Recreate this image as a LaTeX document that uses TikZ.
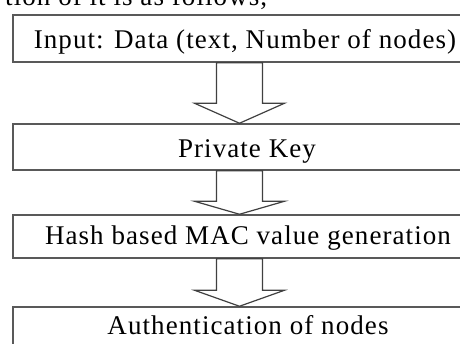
\documentclass[tikz,border=0pt]{standalone}
\usepackage{fontspec}
\setmainfont{Liberation Serif}[LetterSpace=4]
\usetikzlibrary{calc}

\tikzset{
  stagebox/.style={draw=black!65, line width=1.5pt, rectangle, inner sep=0pt,
    minimum width=470pt},
  stagetext/.style={anchor=base, inner sep=0pt, text=black,
    font=\fontsize{27pt}{30pt}\selectfont},
  blockarrowline/.style={draw=black!75, line width=1.2pt, fill=white,
    line join=miter}
}

% hollow block arrow from the bottom of #1 to the top of #2, head length #3
\newcommand\blockarrow[3]{%
  \draw[blockarrowline]
    ($(axis |- #1.south)+(-23,0)$) --
    ($(axis |- #2.north)+(-23,-#3)$) --
    ($(axis |- #2.north)+(-45,-#3)$) --
    (axis |- #2.north) --
    ($(axis |- #2.north)+(45,-#3)$) --
    ($(axis |- #2.north)+(23,-#3)$) --
    ($(axis |- #1.south)+(23,0)$) -- cycle;
}

\begin{document}
\begin{tikzpicture}[x=1pt, y=-1pt]
  \useasboundingbox (0,0) rectangle (460,343);
  \clip (0,0) rectangle (460,343);

  % tail of the sentence above the chart
  \node[stagetext, anchor=base west] (lead) at (5,5.5) {tion of it is as follows,};

  % stage boxes
  \node[stagebox, minimum height=47pt] (b1) at (248,38.5) {};
  \node[stagebox, minimum height=46pt] (b2) at (248,147) {};
  \node[stagebox, minimum height=43pt] (b3) at (248,236.5) {};
  \node[stagebox, minimum height=50pt] (b4) at (248,332) {};

  % stage labels
  \node[stagetext] (t1) at (245,48.5) {Input: Data (text, Number of nodes)};
  \node[stagetext] (t2) at (247,157) {Private Key};
  \node[stagetext] (t3) at (248,244) {Hash based MAC value generation};
  \node[stagetext] (t4) at (248,334) {Authentication of nodes};

  % common axis of the arrows
  \coordinate (axis) at (239.5,0);
  \blockarrow{b1}{b2}{20}
  \blockarrow{b2}{b3}{13}
  \blockarrow{b3}{b4}{16}
\end{tikzpicture}
\end{document}
